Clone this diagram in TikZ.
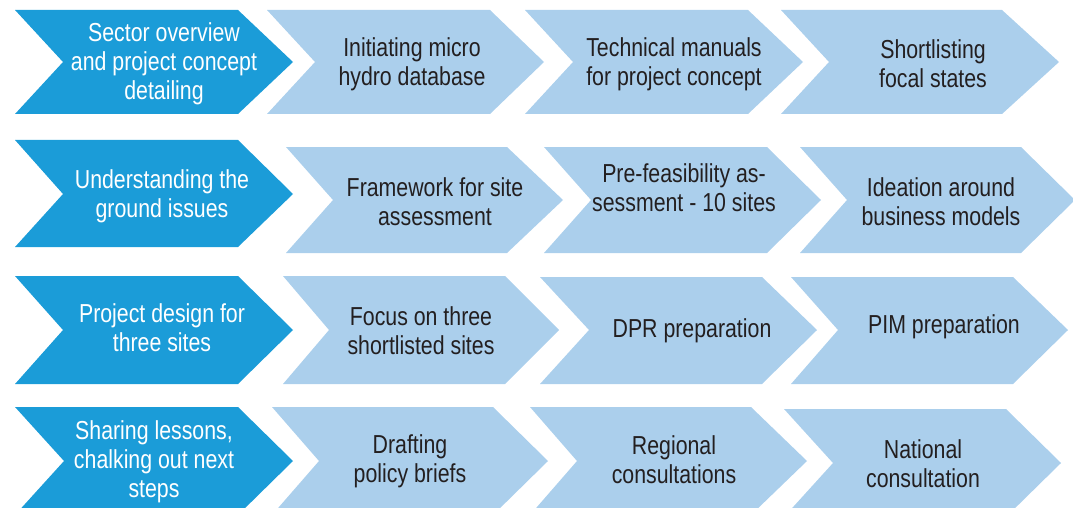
\documentclass[tikz,border=0pt]{standalone}
\usepackage{fontspec}
\setmainfont{Liberation Sans}[FakeStretch=0.82]
\usepackage{xcolor}
\usepackage{tikz}
\usetikzlibrary{positioning,calc}

\definecolor{stepdark}{HTML}{1B9CD8}
\definecolor{steplight}{HTML}{ABCFEC}
\definecolor{steptext}{HTML}{231F20}

\begin{document}
\begin{tikzpicture}[x=1pt, y=-1pt,
    darkstep/.style={fill=stepdark},
    lightstep/.style={fill=steplight},
    darklabel/.style={align=center, text=white, yshift=-2pt, font=\fontsize{26}{29}\selectfont},
    lightlabel/.style={align=center, text=steptext, yshift=-2pt, font=\fontsize{26}{29}\selectfont}]
        \clip (0,0) rectangle (1073,508);

        % Row 1
        \fill[darkstep] (15,10) -- (238,10) -- (293,62) -- (238,114) -- (15,114) -- (63,62) -- cycle;
        \fill[lightstep] (267,10) -- (490,10) -- (544,62) -- (490,114) -- (267,114) -- (315,62) -- cycle;
        \fill[lightstep] (525,10) -- (748,10) -- (803,62) -- (748,114) -- (525,114) -- (573,62) -- cycle;
        \fill[lightstep] (781,10) -- (1002,10) -- (1059,62) -- (1002,114) -- (781,114) -- (829,62) -- cycle;
        \node[darklabel] (sector) at (164,62) {Sector overview\\and project concept\\detailing};
        \node[lightlabel] (database) at (412,62) {Initiating micro\\hydro database};
        \node[lightlabel] (manuals) at (674,62) {Technical manuals\\for project concept};
        \node[lightlabel] (focal) at (933,62) {Shortlisting\\focal states};

        % Row 2
        \fill[darkstep] (15,140) -- (238,140) -- (293,194) -- (238,247) -- (15,247) -- (63,194) -- cycle;
        \fill[lightstep] (286,147) -- (507,147) -- (563,200) -- (507,253) -- (286,253) -- (333,200) -- cycle;
        \fill[lightstep] (544,147) -- (767,147) -- (821,200) -- (767,253) -- (544,253) -- (591,200) -- cycle;
        \fill[lightstep] (800,147) -- (1021,147) -- (1075,200) -- (1021,253) -- (800,253) -- (847,200) -- cycle;
        \node[darklabel] (ground) at (162,194) {Understanding the\\ground issues};
        \node[lightlabel] (framework) at (435,200) {Framework for site\\assessment};
        \node[lightlabel] (prefeas) at (684,186) {Pre-feasibility as-\\sessment - 10 sites};
        \node[lightlabel] (ideation) at (941,200) {Ideation around\\business models};

        % Row 3
        \fill[darkstep] (15,276) -- (238,276) -- (293,330) -- (238,384) -- (15,384) -- (63,330) -- cycle;
        \fill[lightstep] (283,276) -- (505,276) -- (559,330) -- (505,384) -- (283,384) -- (329,330) -- cycle;
        \fill[lightstep] (540,277) -- (762,277) -- (817,330) -- (762,384) -- (540,384) -- (589,330) -- cycle;
        \fill[lightstep] (791,277) -- (1013,277) -- (1068,330) -- (1013,384) -- (791,384) -- (838,330) -- cycle;
        \node[darklabel] (design) at (162,326) {Project design for\\three sites};
        \node[lightlabel] (focus) at (421,329) {Focus on three\\shortlisted sites};
        \node[lightlabel] (dpr) at (692,329) {DPR preparation};
        \node[lightlabel] (pim) at (944,325) {PIM preparation};

        % Row 4
        \fill[darkstep] (15,407) -- (238,407) -- (293,461) -- (238,515) -- (15,515) -- (64,461) -- cycle;
        \fill[lightstep] (272,407) -- (493,407) -- (548,461) -- (493,515) -- (272,515) -- (319,461) -- cycle;
        \fill[lightstep] (530,407) -- (751,407) -- (807,461) -- (751,515) -- (530,515) -- (577,461) -- cycle;
        \fill[lightstep] (784,409) -- (1006,409) -- (1061,463) -- (1006,517) -- (784,517) -- (833,463) -- cycle;
        \node[darklabel] (lessons) at (154,460) {Sharing lessons,\\chalking out next\\steps};
        \node[lightlabel] (briefs) at (410,459) {Drafting\\policy briefs};
        \node[lightlabel] (regional) at (674,458) {Regional\\consultations};
        \node[lightlabel] (national) at (923,462) {National\\consultation};
    \end{tikzpicture}
\end{document}
